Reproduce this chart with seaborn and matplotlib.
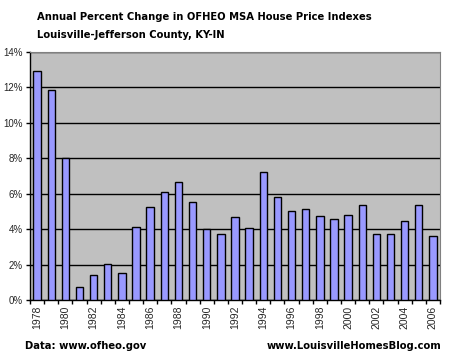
import pandas as pd
import seaborn as sns
import matplotlib
matplotlib.use("Agg")
import matplotlib.pyplot as plt
from matplotlib.ticker import FuncFormatter, FixedLocator

# 数据：年度变化百分比
years = list(range(1978, 2007))
pct_change = [12.9, 11.85, 8.0, 0.75, 1.42, 2.05, 1.5, 4.12, 5.25,
              6.08, 6.67, 5.52, 4.02, 3.7, 4.67, 4.08, 7.22, 5.82,
              5.02, 5.12, 4.74, 4.57, 4.82, 5.38, 3.7, 3.7, 4.44,
              5.36, 3.64]
title_lines = ["Annual Percent Change in OFHEO MSA House Price Indexes",
               "Louisville-Jefferson County, KY-IN"]
source_left = "Data: www.ofheo.gov"
source_right = "www.LouisvilleHomesBlog.com"

df = pd.DataFrame({"year": [str(y) for y in years], "pct": pct_change})

sns.set_style("white")
plt.rcParams['font.family'] = ['Liberation Sans', 'DejaVu Sans']

fig = plt.figure(figsize=(4.5, 3.62), dpi=100)
ax = fig.add_axes([30 / 450, 62 / 362, 410 / 450, 248 / 362])
ax.set_facecolor("#C0C0C0")

sns.barplot(data=df, x="year", y="pct", color="#9999FF", width=0.52,
            edgecolor="black", linewidth=1, saturation=1, ax=ax, zorder=3)

ax.set_ylim(0, 14)
ax.set_xlim(-0.5, len(years) - 0.5)
ax.set_yticks(range(0, 15, 2))
ax.yaxis.set_major_formatter(FuncFormatter(lambda v, p: f"{int(v)}%"))
ax.grid(axis="y", color="black", linewidth=1, zorder=1)
ax.set_axisbelow(True)

# 类别轴：每两年一个标签，刻度在类别之间
idx = list(range(0, len(years), 2))
ax.set_xticks(idx)
ax.set_xticklabels([str(years[i]) for i in idx], rotation=90)
ax.xaxis.set_minor_locator(FixedLocator([i - 0.5 for i in range(len(years) + 1)]))
ax.tick_params(axis="x", which="major", length=0, labelsize=7.5, pad=4)
ax.tick_params(axis="x", which="minor", length=3, width=1, color="black",
               bottom=True)
ax.tick_params(axis="y", length=3, width=1, color="black", labelsize=7,
               left=True, pad=2)
ax.set_xlabel("")
ax.set_ylabel("")

for side in ["top", "right"]:
    ax.spines[side].set_color("#808080")
for side in ["left", "bottom"]:
    ax.spines[side].set_color("black")
    ax.spines[side].set_linewidth(1)

txt = dict(fontsize=8, fontweight="bold", family="DejaVu Sans",
           fontstretch="condensed", va="center", color="black")
fig.text(37 / 450, 1 - 17 / 362, title_lines[0], ha="left", **txt)
fig.text(37 / 450, 1 - 35 / 362, title_lines[1], ha="left", **txt)
fig.text(25 / 450, 1 - 346 / 362, source_left, ha="left", **txt)
fig.text(441 / 450, 1 - 346 / 362, source_right, ha="right", **txt)

fig.savefig("out.png", dpi=100)
